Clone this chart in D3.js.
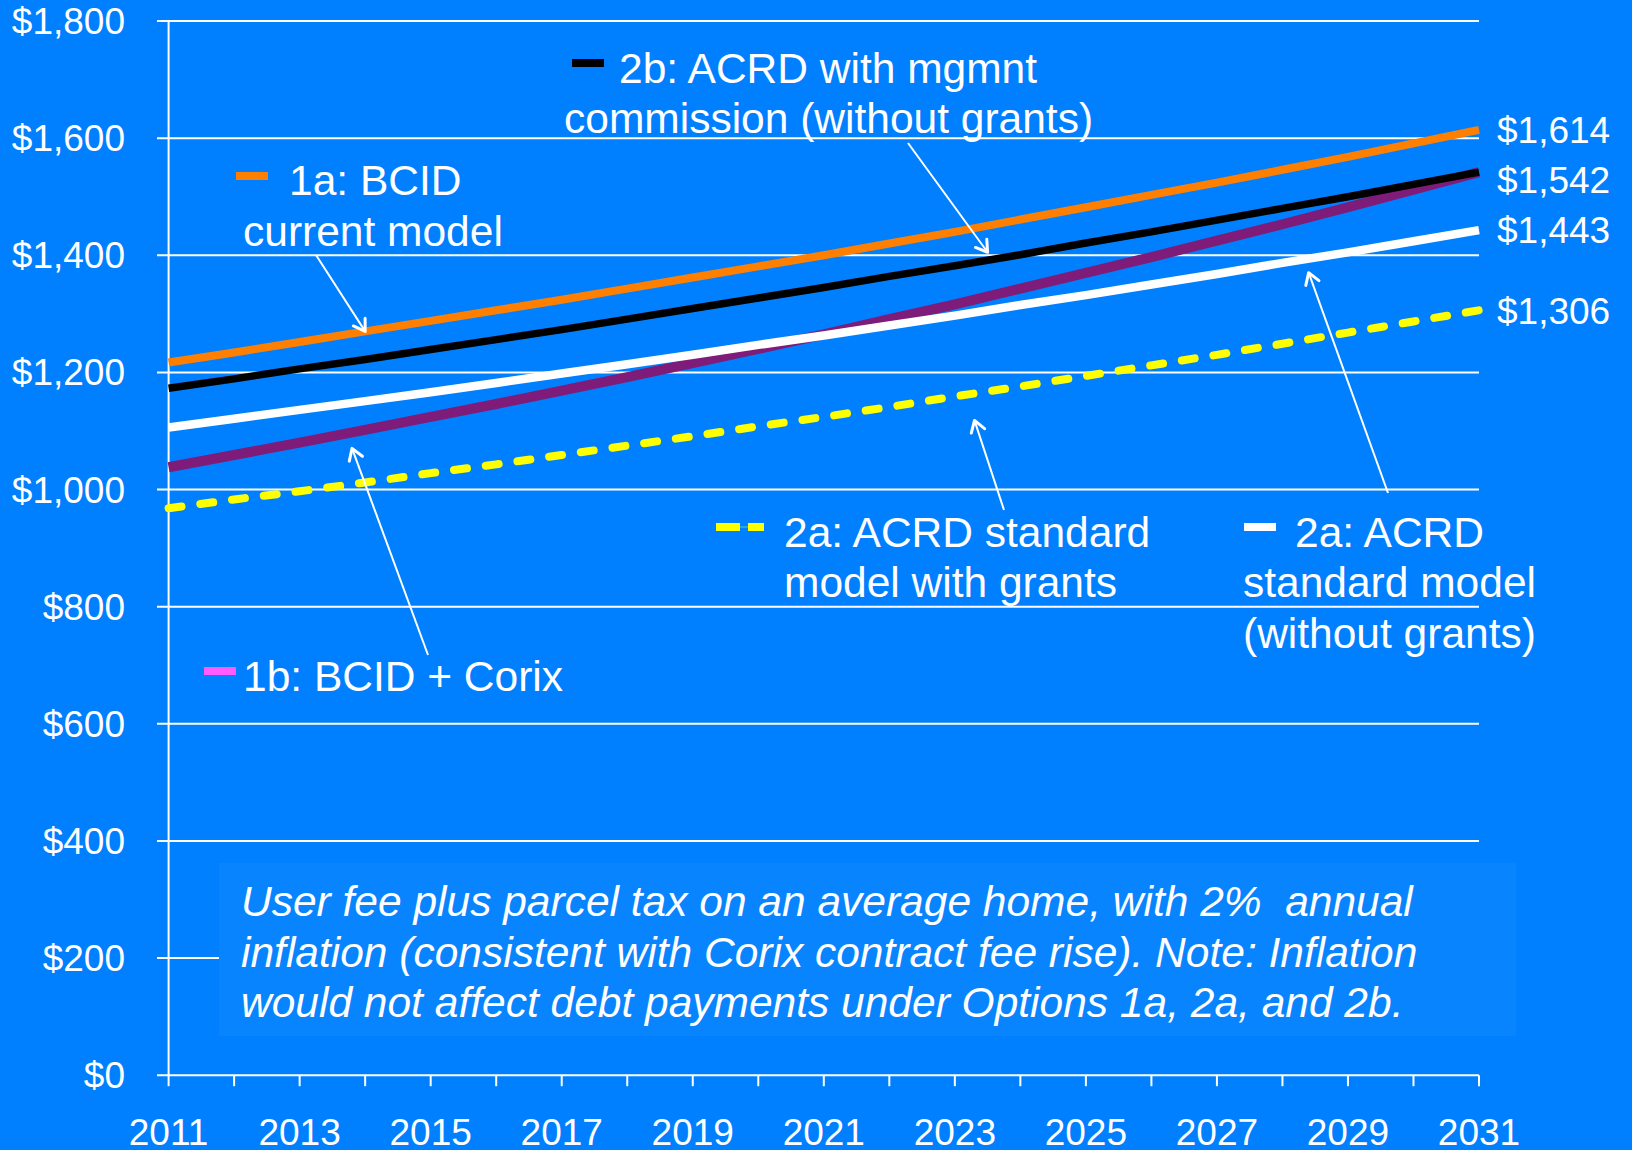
<!DOCTYPE html>
<html>
<head>
<meta charset="utf-8">
<script src="https://cdn.jsdelivr.net/npm/d3@7"></script>
<style>
  body { margin: 0; background: #0080ff; }
  text { font-family: "Liberation Sans", Arial, sans-serif; fill: #fff; white-space: pre; }
</style>
</head>
<body>
<div id="viz-container"></div>
<script>
// data
let years = [2011,2012,2013,2014,2015,2016,2017,2018,2019,2020,2021,2022,2023,2024,2025,2026,2027,2028,2029,2030,2031];
let opt1a = [1217,1234,1252,1270,1288,1306,1324,1343,1362,1381,1400,1420,1440,1461,1482,1503,1524,1546,1568,1591,1614];
let opt2b = [1173,1189,1206,1222,1239,1256,1273,1291,1309,1327,1345,1364,1382,1401,1421,1440,1460,1480,1500,1521,1542];
let opt1b = [1038,1059,1080,1102,1124,1146,1169,1192,1216,1240,1265,1291,1316,1343,1370,1397,1425,1453,1482,1512,1542];
let opt2a = [1106,1121,1136,1151,1166,1182,1198,1214,1230,1247,1263,1280,1297,1315,1332,1350,1368,1387,1405,1424,1443];
let opt2aGrants = [968,983,997,1012,1028,1043,1059,1075,1091,1108,1124,1141,1159,1176,1194,1212,1230,1249,1268,1287,1306];
let yTicks = [0,200,400,600,800,1000,1200,1400,1600,1800];
let xLabels = [2011,2013,2015,2017,2019,2021,2023,2025,2027,2029,2031];
let endLabels = ["$1,614","$1,542","$1,443","$1,306"];
let noteLines = [
  "User fee plus parcel tax on an average home, with 2%  annual",
  "inflation (consistent with Corix contract fee rise). Note: Inflation",
  "would not affect debt payments under Options 1a, 2a, and 2b."
];

let viz = d3.select("#viz-container")
  .append("svg")
    .attr("width", 1632)
    .attr("height", 1150);

viz.append("rect").attr("width", 1632).attr("height", 1150).attr("fill", "#0080ff");

let x = d3.scaleLinear().domain([2011, 2031]).range([168.6, 1479]);
let y = d3.scaleLinear().domain([0, 1800]).range([1075.2, 21]);

let defs = viz.append("defs");
defs.append("marker")
  .attr("id", "head")
  .attr("viewBox", "-14 -10 16 20")
  .attr("markerWidth", 16).attr("markerHeight", 20)
  .attr("markerUnits", "userSpaceOnUse")
  .attr("orient", "auto")
  .append("path")
    .attr("d", "M-11,-7 L0,0 L-11,7")
    .attr("fill", "none")
    .attr("stroke", "#fff")
    .attr("stroke-width", 3)
    .attr("stroke-linecap", "round")
    .attr("stroke-linejoin", "round");

// gridlines + y ticks
viz.selectAll(".grid").data(yTicks).enter()
  .append("line")
    .attr("class", "grid")
    .attr("x1", 157).attr("x2", x(2031))
    .attr("y1", d => y(d)).attr("y2", d => y(d))
    .attr("stroke", "#fff").attr("stroke-width", 2);

viz.append("line")
  .attr("x1", x(2011)).attr("x2", x(2011))
  .attr("y1", y(0)).attr("y2", y(1800))
  .attr("stroke", "#fff").attr("stroke-width", 2);

viz.selectAll(".xtick").data(years).enter()
  .append("line")
    .attr("class", "xtick")
    .attr("x1", d => x(d)).attr("x2", d => x(d))
    .attr("y1", y(0)).attr("y2", y(0) + 11)
    .attr("stroke", "#fff").attr("stroke-width", 2);

viz.selectAll(".ylab").data(yTicks).enter()
  .append("text")
    .attr("class", "ylab")
    .attr("x", 125)
    .attr("y", d => y(d) + 13)
    .attr("text-anchor", "end")
    .attr("font-size", 37)
    .text(d => "$" + d3.format(",")(d));

viz.selectAll(".xlab").data(xLabels).enter()
  .append("text")
    .attr("class", "xlab")
    .attr("x", d => x(d))
    .attr("y", 1145)
    .attr("text-anchor", "middle")
    .attr("font-size", 37)
    .text(d => d);

// note box
viz.append("rect")
  .attr("x", 219).attr("y", 863)
  .attr("width", 1297).attr("height", 173)
  .attr("fill", "#0884ff");

viz.selectAll(".note").data(noteLines).enter()
  .append("text")
    .attr("class", "note")
    .attr("x", 241)
    .attr("y", (d, i) => 916 + i * 50.5)
    .attr("font-size", 42.5)
    .attr("font-style", "italic")
    .text(d => d);

// series lines
let line = d3.line().x((d, i) => x(years[i])).y(d => y(d));

let series = [
  { v: opt2aGrants, color: "#ffff00", w: 8, dash: "13,19" },
  { v: opt1b, color: "#7f1b78", w: 10 },
  { v: opt2a, color: "#ffffff", w: 8.5 },
  { v: opt2b, color: "#000000", w: 7.5 },
  { v: opt1a, color: "#ff7f00", w: 8 }
];

viz.selectAll(".series").data(series).enter()
  .append("path")
    .attr("class", "series")
    .attr("d", d => line(d.v))
    .attr("fill", "none")
    .attr("stroke", d => d.color)
    .attr("stroke-width", d => d.w)
    .attr("stroke-dasharray", d => d.dash || null)
    .attr("stroke-linecap", d => d.dash ? "round" : "butt");

// end value labels
let ends = [opt1a, opt2b, opt2a, opt2aGrants];
let endNudge = [13, 21, 13, 14];
viz.selectAll(".endlab").data(endLabels).enter()
  .append("text")
    .attr("class", "endlab")
    .attr("x", 1497)
    .attr("y", (d, i) => y(ends[i][20]) + endNudge[i])
    .attr("font-size", 37)
    .text(d => d);

// legend: swatch, text lines
let legend = [
  { sw: [236, 176], color: "#ff7f00", lines: [["1a: BCID", 289, 195], ["current model", 243, 246]] },
  { sw: [572, 63], color: "#000000", lines: [["2b: ACRD with mgmnt", 619, 83], ["commission (without grants)", 564, 133]] },
  { sw: [716, 527], color: "#ffff00", dashed: true, lines: [["2a: ACRD standard", 784, 547], ["model with grants", 784, 597]] },
  { sw: [1244, 527], color: "#ffffff", lines: [["2a: ACRD", 1295, 547], ["standard model", 1243, 597], ["(without grants)", 1243, 648]] },
  { sw: [204, 671], color: "#ff5cff", lines: [["1b: BCID + Corix", 243, 691]] }
];

legend.forEach(function(item) {
  if (item.dashed) {
    viz.append("line")
      .attr("x1", item.sw[0]).attr("x2", item.sw[0] + 48)
      .attr("y1", item.sw[1]).attr("y2", item.sw[1])
      .attr("stroke", "#33b5c8").attr("stroke-width", 1.5);
    viz.append("rect").attr("x", item.sw[0]).attr("y", item.sw[1] - 4).attr("width", 24).attr("height", 8).attr("fill", item.color);
    viz.append("rect").attr("x", item.sw[0] + 32).attr("y", item.sw[1] - 4).attr("width", 16).attr("height", 8).attr("fill", item.color);
  } else {
    viz.append("rect")
      .attr("x", item.sw[0]).attr("y", item.sw[1] - 4)
      .attr("width", 32).attr("height", 8)
      .attr("fill", item.color);
  }
  item.lines.forEach(function(l) {
    viz.append("text")
      .attr("x", l[1]).attr("y", l[2])
      .attr("font-size", 42.5)
      .text(l[0]);
  });
});

// arrows from labels to lines: tail in pixels, tip on a series at a year
let arrows = [
  { tail: [316, 255], s: opt1a, yr: 2014, dy: 0 },
  { tail: [908, 143], s: opt2b, yr: 2023.5, dy: -8 },
  { tail: [1004, 510], s: opt2aGrants, yr: 2023.3, dy: 27 },
  { tail: [1388, 493], s: opt2a, yr: 2028.4, dy: 14 },
  { tail: [428, 655], s: opt1b, yr: 2013.8, dy: 16 }
];

function valueAt(s, yr) {
  let i = Math.floor(yr - 2011);
  let f = yr - 2011 - i;
  return s[i] + (s[Math.min(i + 1, 20)] - s[i]) * f;
}

viz.selectAll(".arrow").data(arrows).enter()
  .append("line")
    .attr("class", "arrow")
    .attr("x1", d => d.tail[0]).attr("y1", d => d.tail[1])
    .attr("x2", d => x(d.yr)).attr("y2", d => y(valueAt(d.s, d.yr)) + d.dy)
    .attr("stroke", "#fff").attr("stroke-width", 2)
    .attr("marker-end", "url(#head)");
</script>
</body>
</html>
